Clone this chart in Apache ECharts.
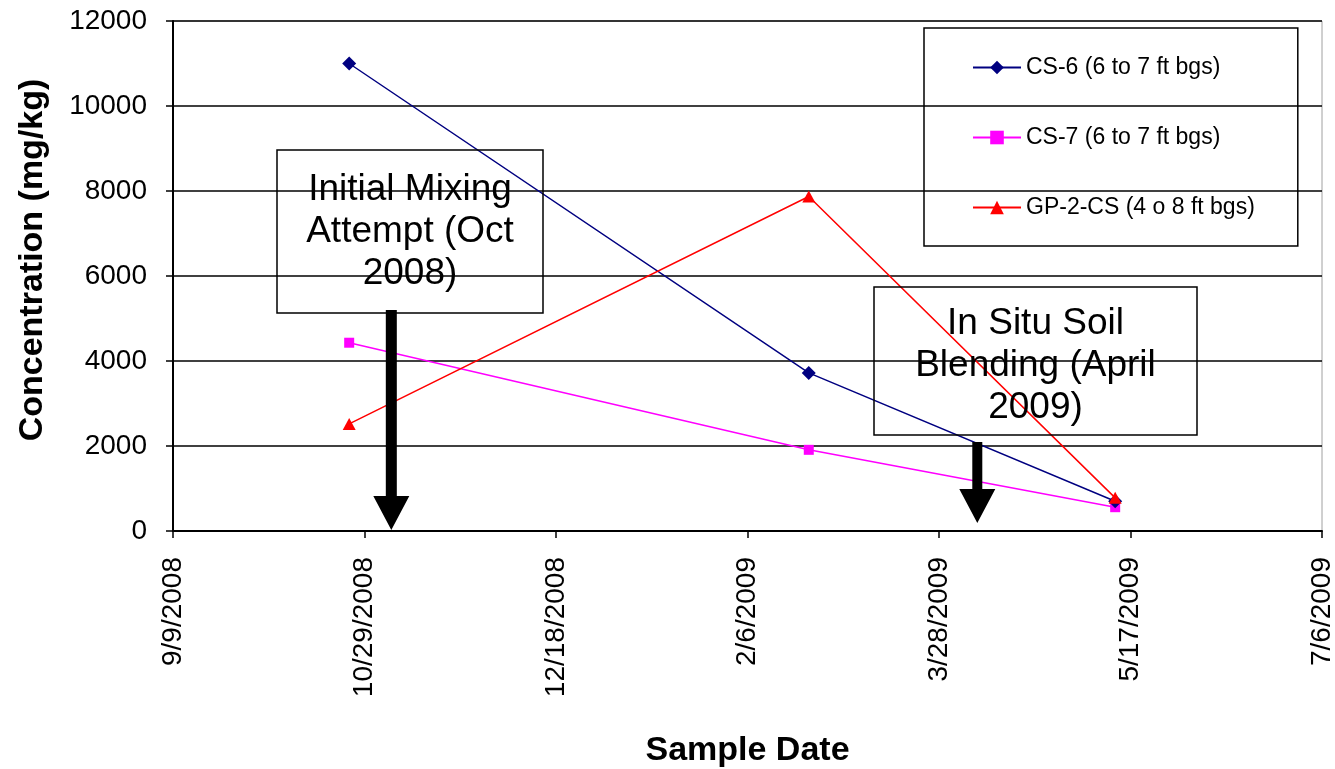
<!DOCTYPE html>
<html>
<head>
<meta charset="utf-8">
<title>Concentration vs Sample Date</title>
<script src="https://cdn.jsdelivr.net/npm/echarts@6/dist/echarts.min.js"></script>
<style>
  html, body { margin: 0; padding: 0; background: #fff; }
  #main { width: 1335px; height: 769px; }
</style>
</head>
<body>
<div id="main"></div>
<script>
// axis start date, ticks every 50 days
const axisStart = '2008-09-09';
const tickStepDays = 50;
const axisDays = 300;

// sample dates
const sampleDates = ['2008-10-25', '2009-02-22', '2009-05-13'];

// concentrations (mg/kg)
const cs6 = [11000, 3720, 700];
const cs7 = [4430, 1910, 560];
const gp2cs = [2520, 7870, 780];

const seriesNames = ['CS-6 (6 to 7 ft bgs)', 'CS-7 (6 to 7 ft bgs)', 'GP-2-CS (4 o 8 ft bgs)'];

// annotation events
const eventDates = ['2008-11-05', '2009-04-07'];
const eventTexts = ['Initial Mixing\nAttempt (Oct\n2008)', 'In Situ Soil\nBlending (April\n2009)'];

const font = '"Liberation Sans", Arial, sans-serif';

function toUTC(s) {
    const p = s.split('-').map(Number);
    return Date.UTC(p[0], p[1] - 1, p[2]);
}
const startMs = toUTC(axisStart);
const dayOf = (s) => (toUTC(s) - startMs) / 86400000;
const fmtDay = (d) => {
    const dt = new Date(startMs + d * 86400000);
    return (dt.getUTCMonth() + 1) + '/' + dt.getUTCDate() + '/' + dt.getUTCFullYear();
};
const pairs = (vals) => sampleDates.map((s, i) => [dayOf(s), vals[i]]);

const chart = echarts.init(document.getElementById('main'));

const option = {
    animation: false,
    backgroundColor: '#fff',
    textStyle: { fontFamily: font },
    grid: {
        left: 173, right: 13, top: 21, bottom: 238,
        outerBoundsMode: 'none',
        show: true, borderColor: '#a0a0a0', borderWidth: 1
    },
    legend: {
        orient: 'vertical',
        left: 924, top: 28,
        padding: [28, 43, 27, 48],
        itemGap: 47,
        itemWidth: 48,
        itemHeight: 17,
        borderColor: '#000',
        borderWidth: 1.5,
        textStyle: { color: '#000', fontSize: 23, fontFamily: font },
        data: seriesNames
    },
    xAxis: {
        type: 'value',
        min: 0, max: axisDays, interval: tickStepDays,
        name: 'Sample Date',
        nameLocation: 'middle',
        nameGap: 203,
        nameTextStyle: { fontSize: 34, fontWeight: 'bold', color: '#000', fontFamily: font },
        axisLine: { lineStyle: { color: '#000', width: 2 } },
        axisTick: { lineStyle: { color: '#000', width: 1.5 }, length: 7 },
        splitLine: { show: false },
        axisLabel: {
            rotate: 90, margin: 26, color: '#000', fontSize: 28, fontFamily: font,
            formatter: fmtDay
        }
    },
    yAxis: {
        type: 'value',
        min: 0, max: 12000, interval: 2000,
        name: 'Concentration (mg/kg)',
        nameLocation: 'middle',
        nameGap: 123,
        nameTextStyle: {
            fontSize: 34, fontWeight: 'bold', color: '#000', fontFamily: font,
            padding: [0, 0, 0, 32]
        },
        axisLine: { show: true, lineStyle: { color: '#000', width: 2 } },
        axisTick: { show: true, lineStyle: { color: '#000', width: 1.5 }, length: 7 },
        splitLine: { lineStyle: { color: '#000', width: 1.5 } },
        axisLabel: {
            margin: 26, color: '#000', fontSize: 28, fontFamily: font,
            formatter: (v) => String(v)
        }
    },
    series: [{
        name: seriesNames[0],
        type: 'line',
        data: pairs(cs6),
        symbol: 'diamond',
        symbolSize: 14,
        color: '#000080',
        lineStyle: { color: '#000080', width: 1.5 },
        itemStyle: { color: '#000080' },
        z: 4
    }, {
        name: seriesNames[1],
        type: 'line',
        data: pairs(cs7),
        symbol: 'rect',
        symbolSize: 10,
        color: '#ff00ff',
        lineStyle: { color: '#ff00ff', width: 1.5 },
        itemStyle: { color: '#ff00ff' },
        z: 3
    }, {
        name: seriesNames[2],
        type: 'line',
        data: pairs(gp2cs),
        symbol: 'triangle',
        symbolSize: [13, 12],
        color: '#ff0000',
        lineStyle: { color: '#ff0000', width: 1.5 },
        itemStyle: { color: '#ff0000' },
        z: 5
    }]
};

chart.setOption(option);

// annotation boxes and arrows
const boxes = [
    { x: 277, y: 150, w: 266, h: 163, textY: 232, arrowTop: 310, arrowShaft: 11, tip: 530 },
    { x: 874, y: 287, w: 323, h: 148, textY: 366, arrowTop: 442, arrowShaft: 10, tip: 523 }
];
const graphics = [];
boxes.forEach((b, i) => {
    graphics.push({
        type: 'rect',
        shape: { x: b.x, y: b.y, width: b.w, height: b.h },
        style: { fill: 'none', stroke: '#000', lineWidth: 1.5 },
        z: 10
    });
    graphics.push({
        type: 'text',
        x: b.x + b.w / 2,
        y: b.textY,
        style: {
            text: eventTexts[i],
            font: '37px ' + font,
            fill: '#000',
            align: 'center',
            verticalAlign: 'middle',
            lineHeight: 42
        },
        z: 10
    });
    const px = chart.convertToPixel({ xAxisIndex: 0 }, dayOf(eventDates[i]));
    const hw = 18, hh = 34, sw = b.arrowShaft / 2;
    graphics.push({
        type: 'polygon',
        shape: {
            points: [
                [px - sw, b.arrowTop], [px + sw, b.arrowTop],
                [px + sw, b.tip - hh], [px + hw, b.tip - hh],
                [px, b.tip], [px - hw, b.tip - hh],
                [px - sw, b.tip - hh]
            ]
        },
        style: { fill: '#000' },
        z: 11
    });
});
chart.setOption({ graphic: graphics });
</script>
</body>
</html>
